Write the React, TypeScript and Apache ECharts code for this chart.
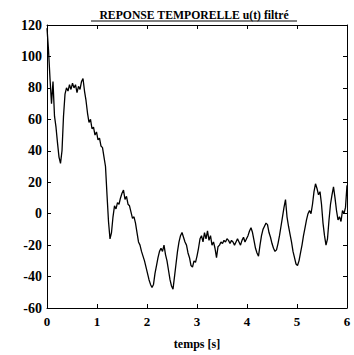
import React, { useEffect, useRef } from "react";
import * as echarts from "echarts";

const TITLE = "REPONSE TEMPORELLE u(t) filtré";
const X_NAME = "temps [s]";
const T_END = 6;
const U_VALUES = [
  118, 104, 86, 70, 84, 62, 55, 45, 36, 32,
  40, 62, 76, 80, 78, 82, 79, 83, 80, 82,
  77, 81, 79, 84, 86, 78, 72, 64, 58, 60,
  54, 55, 50, 52, 47, 48, 43, 42, 36, 30,
  12, -5, -16, -12, -2, 5, 3, 7, 6, 10,
  13, 15, 9, 11, 6, 5, 1, -3, -2, -6,
  -12, -18, -20, -24, -27, -30, -34, -38, -42, -45,
  -47, -45, -38, -33, -28, -24, -22, -24, -20, -26,
  -30, -36, -42, -46, -48, -40, -32, -24, -18, -14,
  -12, -15, -18, -20, -25, -28, -33, -34, -30, -31,
  -27, -22, -16, -14, -18, -12, -16, -11, -17, -14,
  -20, -18, -22, -28, -21, -20, -18, -19, -17, -18,
  -16, -17, -19, -17, -18, -20, -18, -16, -18, -20,
  -17, -15, -18, -16, -14, -11, -9, -12, -17, -22,
  -25, -27, -20, -14, -10, -8, -6, -7, -12, -15,
  -19, -22, -24, -23, -19, -14, -8, -2, 4, 9,
  -2, -8, -13, -18, -24, -28, -32, -33, -30, -25,
  -20, -14, -9, -4, 0, 2, 0, 6, 14, 19,
  16, 12, 14, 6, -6, -14, -20, -16, -4, 6,
  12, 17, 10, 2, -4, -2, -5, 2, 0, 4,
  18,
];
const Y_MIN = -60;
const Y_MAX = 120;
const Y_STEP = 20;
const X_STEP = 1;

const FONT = "'Liberation Serif', 'Times New Roman', 'DejaVu Serif', serif";

export default function App() {
  const ref = useRef<HTMLDivElement>(null);
  useEffect(() => {
    document.body.style.margin = "0";
    const chart = echarts.init(ref.current!, null, { renderer: "svg" });
    const n = U_VALUES.length;
    const data = U_VALUES.map((v, i) => [(i * T_END) / (n - 1), v]);
    const axisLine = { show: true, onZero: false, lineStyle: { color: "#000", width: 1 } };
    const axisTickIn = { show: true, inside: true, length: 4, lineStyle: { color: "#000", width: 1 } };
    const labelStyle = { color: "#000", fontFamily: FONT, fontWeight: "bold" as const, fontSize: 13 };
    chart.setOption({
      animation: false,
      backgroundColor: "#fff",
      grid: { left: 47, right: 7, top: 25, bottom: 44 },
      graphic: [
        {
          type: "text",
          x: 194,
          y: 15,
          scaleX: 0.9,
          style: {
            text: TITLE,
            fontFamily: FONT,
            fontWeight: "bold",
            fontSize: 13,
            fill: "#000",
            textAlign: "center",
            textVerticalAlign: "middle",
          },
        },
        {
          type: "line",
          shape: { x1: 91, y1: 21, x2: 297, y2: 21 },
          style: { stroke: "#000", lineWidth: 1 },
        },
      ],
      xAxis: [
        {
          type: "value",
          min: 0,
          max: T_END,
          interval: X_STEP,
          position: "bottom",
          axisLine,
          axisTick: axisTickIn,
          splitLine: { show: false },
          axisLabel: { ...labelStyle, margin: 7 },
          name: X_NAME,
          nameLocation: "middle",
          nameGap: 30,
          nameTextStyle: { ...labelStyle, fontSize: 12 },
        },
        {
          type: "value",
          min: 0,
          max: T_END,
          interval: X_STEP,
          position: "top",
          axisLine,
          axisTick: axisTickIn,
          splitLine: { show: false },
          axisLabel: { show: false },
        },
      ],
      yAxis: [
        {
          type: "value",
          min: Y_MIN,
          max: Y_MAX,
          interval: Y_STEP,
          position: "left",
          axisLine,
          axisTick: axisTickIn,
          splitLine: { show: false },
          axisLabel: { ...labelStyle, fontSize: 14, margin: 5 },
        },
        {
          type: "value",
          min: Y_MIN,
          max: Y_MAX,
          interval: Y_STEP,
          position: "right",
          axisLine,
          axisTick: axisTickIn,
          splitLine: { show: false },
          axisLabel: { show: false },
        },
      ],
      series: [
        {
          type: "line",
          data,
          showSymbol: false,
          symbol: "none",
          lineStyle: { color: "#000", width: 1.3 },
        },
      ],
    });
    return () => chart.dispose();
  }, []);
  return <div ref={ref} style={{ width: 354, height: 355 }} />;
}
